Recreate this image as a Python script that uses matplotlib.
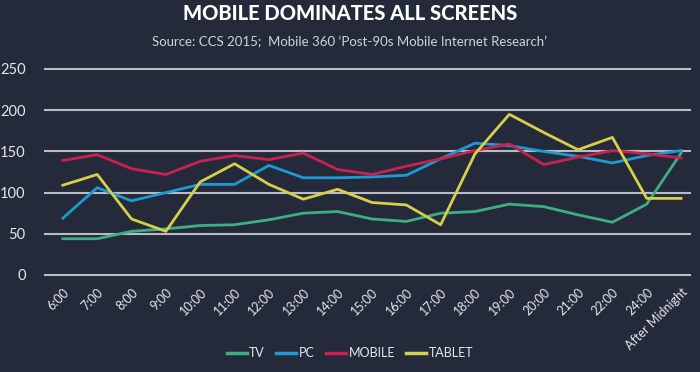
import matplotlib
matplotlib.use("Agg")
import matplotlib.pyplot as plt
from matplotlib.lines import Line2D

categories = ["6:00", "7:00", "8:00", "9:00", "10:00", "11:00", "12:00", "13:00", "14:00",
              "15:00", "16:00", "17:00", "18:00", "19:00", "20:00", "21:00", "22:00", "24:00",
              "After Midnight"]
tv = [44, 44, 53, 56, 60, 61, 67, 75, 77, 68, 65, 75, 77, 86, 83, 73, 64, 86, 148]
pc = [69, 106, 90, 100, 110, 110, 133, 118, 118, 119, 121, 141, 160, 157, 150, 144, 136, 145, 151]
mobile = [139, 146, 129, 122, 138, 145, 140, 148, 128, 122, 132, 141, 151, 159, 134, 143, 151, 147, 142]
tablet = [109, 122, 68, 53, 113, 135, 110, 92, 104, 88, 85, 61, 147, 195, 173, 152, 167, 93, 93]
yticks = [0, 50, 100, 150, 200, 250]

series = [("TV", tv, "#3dae84"), ("PC", pc, "#1d9ad3"),
          ("MOBILE", mobile, "#c8214f"), ("TABLET", tablet, "#d6cf4b")]

BG = "#252a3b"
TXT = "#e6e7ea"
plt.rcParams['font.family'] = ['Lato', 'DejaVu Sans']

fig = plt.figure(figsize=(7, 3.72), dpi=100, facecolor=BG)
ax = fig.add_axes([45/700, 1-275/372, 645/700, 206/372], facecolor=BG)

x = list(range(len(categories)))
ax.set_xlim(-0.52, 18.26)
ax.set_ylim(0, 250)
for y in yticks:
    ax.axhline(y, color="#b9bcc5", lw=1.5, clip_on=False, zorder=1)

for name, vals, col in series:
    ax.plot(x, vals, color=col, lw=2, zorder=3, solid_joinstyle='round')

for s in ax.spines.values():
    s.set_visible(False)
ax.set_yticks(yticks)
ax.set_yticklabels([str(v) for v in yticks], color=TXT, fontsize=10.5)
ax.tick_params(axis='y', length=0, pad=14)
ax.set_xticks(x)
ax.set_xticklabels(categories, rotation=45, ha='right', va='top', rotation_mode='anchor',
                   color=TXT, fontsize=9)
ax.tick_params(axis='x', length=0, pad=8)

fig.text(0.5, 1-13/372, "MOBILE DOMINATES ALL SCREENS", ha='center', va='center',
         color="white", fontsize=14.5, fontweight='black')
fig.text(0.5, 1-42/372, "Source: CCS 2015;  Mobile 360 \u2018Post-90s Mobile Internet Research\u2019",
         ha='center', va='center', color="#d0d2d8", fontsize=9.5)

handles = [Line2D([0], [0], color=c, lw=2.5) for _, _, c in series]
leg = fig.legend(handles, [n for n, _, _ in series], loc='center', bbox_to_anchor=(0.5, 1-353/372),
                 ncol=4, frameon=False, handlelength=1.6, handletextpad=0.2, columnspacing=0.9,
                 fontsize=9)
for t in leg.get_texts():
    t.set_color(TXT)

fig.savefig("out.png", dpi=100, facecolor=BG)
